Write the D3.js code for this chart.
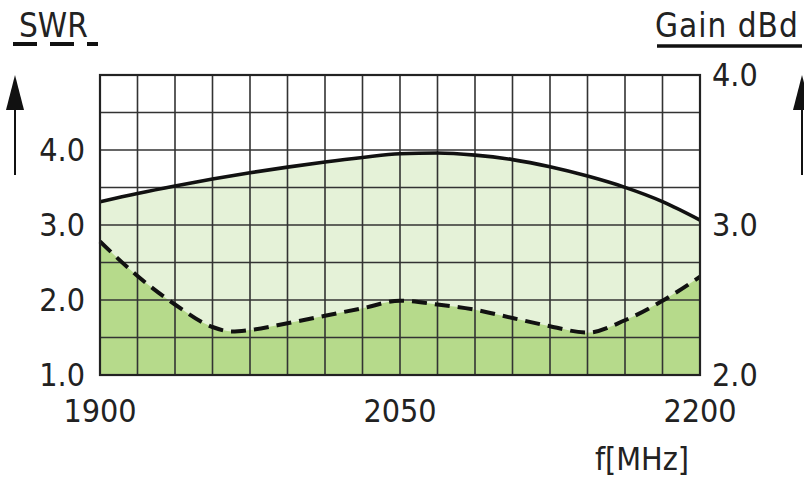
<!DOCTYPE html>
<html>
<head>
<meta charset="utf-8">
<script src="https://cdn.jsdelivr.net/npm/d3@7"></script>
<style>
  body { margin: 0; background: #fff; }
  text { font-family: "DejaVu Sans Condensed", "DejaVu Sans", sans-serif; fill: #222; }
</style>
</head>
<body>
<script>
const width = 804;
const height = 479;

// gain dBd (solid line, right axis)
const gainFreqs = [1900, 1918.75, 1937.5, 1956.25, 1975, 1993.75, 2012.5, 2031.25, 2050,
                   2068.75, 2087.5, 2106.25, 2125, 2143.75, 2162.5, 2181.25, 2200];
const gain = [3.155, 3.21, 3.26, 3.306, 3.348, 3.386, 3.42, 3.45, 3.475,
              3.48, 3.466, 3.436, 3.388, 3.326, 3.251, 3.156, 3.033];
// SWR (dashed line, left axis)
const swrFreqs = [1900, 1918.75, 1937.5, 1956.25, 1966, 1975, 1993.75, 2012.5, 2031.25, 2050,
                  2068.75, 2087.5, 2106.25, 2125, 2143.75, 2162.5, 2181.25, 2200];
const swr = [2.78, 2.32, 1.94, 1.64, 1.58, 1.60, 1.69, 1.79, 1.89, 1.99,
             1.94, 1.87, 1.76, 1.65, 1.565, 1.73, 1.99, 2.31];

const xTicks = [1900, 2050, 2200];
const swrTicks = [1.0, 2.0, 3.0, 4.0];
const gainTicks = [2.0, 3.0, 4.0];

const plot = {left: 100, right: 700, top: 75, bottom: 375};

var svg = d3.select("body")
  .append("svg")
  .attr("width", width)
  .attr("height", height);

var x = d3.scaleLinear().domain([1900, 2200]).range([plot.left, plot.right]);
var ySwr = d3.scaleLinear().domain([1, 5]).range([plot.bottom, plot.top]);
var yGain = d3.scaleLinear().domain([2, 4]).range([plot.bottom, plot.top]);

var gainPts = gainFreqs.map((f, i) => [f, gain[i]]);
var swrPts = swrFreqs.map((f, i) => [f, swr[i]]);

// light green area under gain curve
svg.append("path")
  .datum(gainPts)
  .attr("fill", "#e5f2d8")
  .attr("d", d3.area()
    .x(d => x(d[0]))
    .y0(plot.bottom)
    .y1(d => yGain(d[1]))
    .curve(d3.curveMonotoneX));

// darker green under SWR curve
svg.append("path")
  .datum(swrPts)
  .attr("fill", "#b6da8b")
  .attr("d", d3.area()
    .x(d => x(d[0]))
    .y0(plot.bottom)
    .y1(d => ySwr(d[1]))
    .curve(d3.curveMonotoneX));

// grid: 16 columns, 8 rows
var grid = svg.append("g").attr("stroke", "#333").attr("stroke-width", 1.6);
grid.selectAll("line.v")
  .data(d3.range(1, 16).map(i => 1900 + i * 18.75))
  .enter().append("line")
  .attr("x1", d => x(d)).attr("x2", d => x(d))
  .attr("y1", plot.top).attr("y2", plot.bottom);
grid.selectAll("line.h")
  .data(d3.range(1, 8).map(i => 1 + i * 0.5))
  .enter().append("line")
  .attr("y1", d => ySwr(d)).attr("y2", d => ySwr(d))
  .attr("x1", plot.left).attr("x2", plot.right);

// curves
svg.append("path")
  .datum(gainPts)
  .attr("fill", "none")
  .attr("stroke", "#111")
  .attr("stroke-width", 3.6)
  .attr("d", d3.line().x(d => x(d[0])).y(d => yGain(d[1])).curve(d3.curveMonotoneX));

svg.append("path")
  .datum(swrPts)
  .attr("fill", "none")
  .attr("stroke", "#111")
  .attr("stroke-width", 4)
  .attr("stroke-dasharray", "15,8")
  .attr("d", d3.line().x(d => x(d[0])).y(d => ySwr(d[1])).curve(d3.curveMonotoneX));

// border
svg.append("rect")
  .attr("x", plot.left).attr("y", plot.top)
  .attr("width", plot.right - plot.left).attr("height", plot.bottom - plot.top)
  .attr("fill", "none").attr("stroke", "#222").attr("stroke-width", 2.2);

// tick labels
svg.selectAll("text.swr")
  .data(swrTicks).enter().append("text")
  .attr("x", 85).attr("y", d => ySwr(d) + 11)
  .attr("text-anchor", "end").attr("font-size", 32)
  .text(d => d.toFixed(1));

svg.selectAll("text.gain")
  .data(gainTicks).enter().append("text")
  .attr("x", 712).attr("y", d => yGain(d) + 11)
  .attr("text-anchor", "start").attr("font-size", 32)
  .text(d => d.toFixed(1));

svg.selectAll("text.freq")
  .data(xTicks).enter().append("text")
  .attr("x", d => x(d)).attr("y", 422)
  .attr("text-anchor", "middle").attr("font-size", 32)
  .text(d => d);

svg.append("text")
  .attr("x", 642).attr("y", 470)
  .attr("text-anchor", "middle").attr("font-size", 32)
  .text("f[MHz]");

// axis titles
svg.append("text").attr("x", 19).attr("y", 37).attr("font-size", 33).text("SWR");
svg.append("line")
  .attr("x1", 13).attr("x2", 98).attr("y1", 44).attr("y2", 44)
  .attr("stroke", "#111").attr("stroke-width", 4)
  .attr("stroke-dasharray", "24,13");

svg.append("text").attr("x", 655).attr("y", 37).attr("font-size", 33)
  .attr("letter-spacing", 1).text("Gain dBd");
svg.append("line")
  .attr("x1", 657).attr("x2", 802).attr("y1", 46).attr("y2", 46)
  .attr("stroke", "#111").attr("stroke-width", 3.5);

// arrows
function arrow(cx) {
  svg.append("line")
    .attr("x1", cx).attr("x2", cx).attr("y1", 175).attr("y2", 100)
    .attr("stroke", "#111").attr("stroke-width", 2);
  svg.append("path")
    .attr("d", d3.line()([[cx, 75], [cx + 9, 110], [cx - 9, 110]]) + "Z")
    .attr("fill", "#111");
}
arrow(15);
arrow(802);
</script>
</body>
</html>
